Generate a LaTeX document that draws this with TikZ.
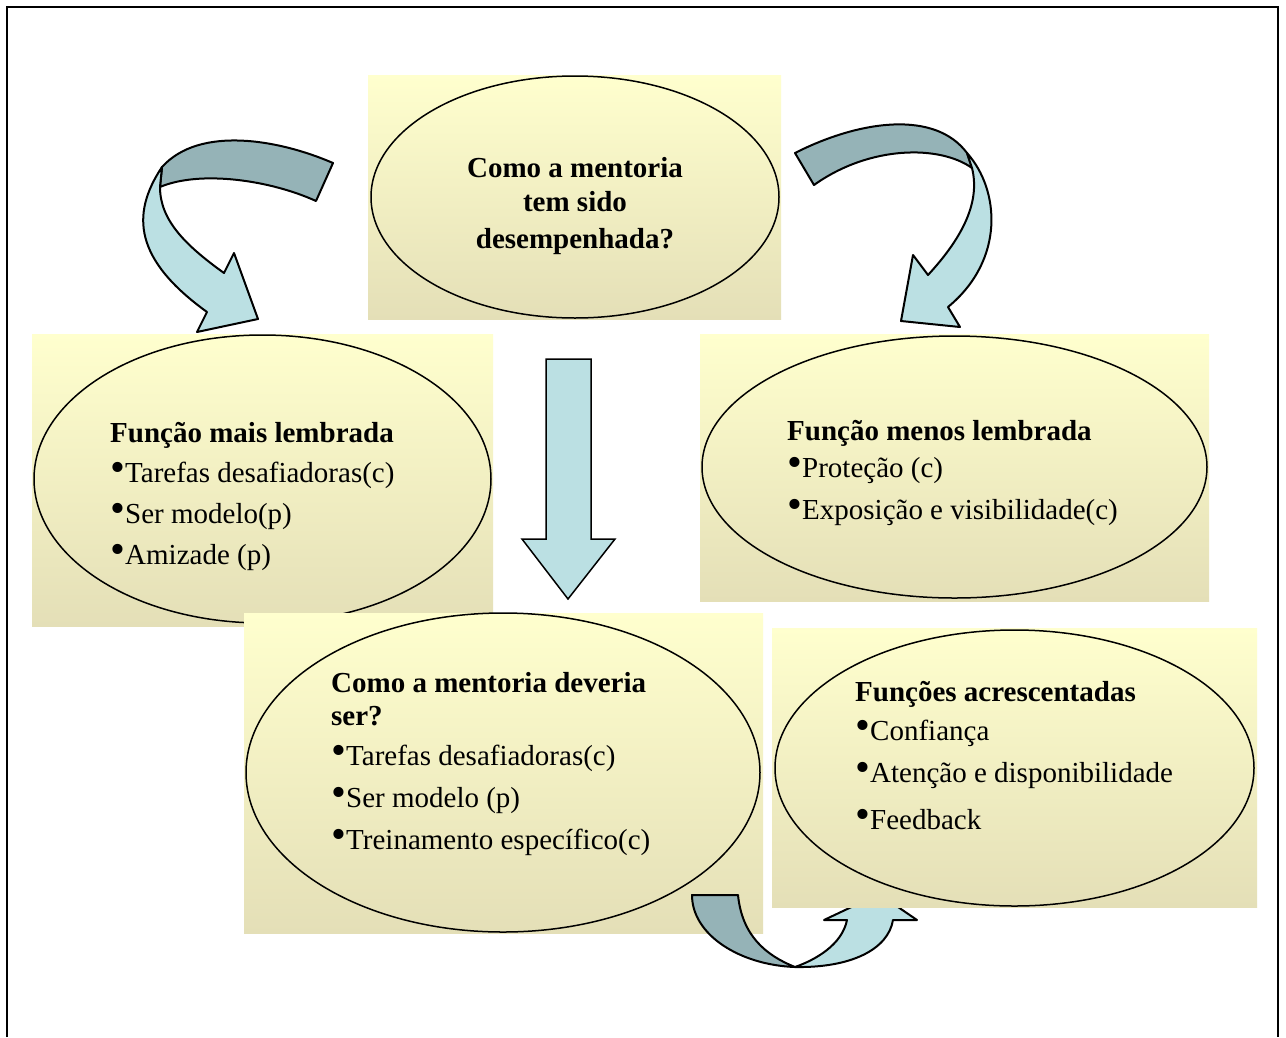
\documentclass[tikz,border=0pt]{standalone}
\usepackage{fontspec}
\usepackage{graphicx}
\setmainfont{Liberation Serif}
\usetikzlibrary{shapes.geometric}
\definecolor{ytop}{RGB}{255,255,206}
\definecolor{ybot}{RGB}{228,223,183}
\definecolor{darkband}{RGB}{149,179,183}
\definecolor{lightband}{RGB}{187,224,227}
\newcommand\fsz{\fontsize{29}{35}\selectfont}
\newcommand\bul{\makebox[15pt][l]{\raisebox{0.5pt}{\scalebox{1.7}{\fontsize{25}{30}\selectfont •}}}}
\begin{document}
\begin{tikzpicture}[x=1pt,y=-1pt,
  panel/.style={rectangle, inner sep=0, outer sep=0, top color=ytop, bottom color=ybot, draw=none},
  oval/.style={ellipse, draw=black, line width=1.5pt, inner sep=0, outer sep=0},
  hd/.style={anchor=base west, inner sep=0, font=\bfseries\fsz},
  hc/.style={anchor=base, inner sep=0, font=\bfseries\fsz},
  itm/.style={anchor=base west, inner sep=0, font=\fsz},
  dk/.style={fill=darkband, draw=black, line width=2pt, line join=round},
  lt/.style={fill=lightband, draw=black, line width=2pt, line join=round}]
\useasboundingbox (0,0) rectangle (1286,1037);
\fill[white] (0,0) rectangle (1286,1037);
\draw[line width=2pt] (7,1037) -- (7,7) -- (1278,7) -- (1278,1037);

% top panel
\node[panel, minimum width=413pt, minimum height=244pt] (ptop) at (574.5,197) {};
\node[oval, minimum width=408pt, minimum height=242pt] (etop) at (575,197) {};
\node[hc] (t1) at (575,177) {Como a mentoria};
\node[hc] (t2) at (575,211) {tem sido};
\node[hc] (t3) at (575,248) {desempenhada?};

% left panel
\node[panel, minimum width=461pt, minimum height=292pt] (pleft) at (262.5,480) {};
\node[oval, minimum width=457pt, minimum height=288pt] (eleft) at (262.5,479) {};
\node[hd] (l0) at (110,442) {Função mais lembrada};
\node[itm] (l1) at (110,482) {\bul Tarefas desafiadoras(c)};
\node[itm] (l2) at (110,523) {\bul Ser modelo(p)};
\node[itm] (l3) at (110,564) {\bul Amizade (p)};

% right panel
\node[panel, minimum width=509pt, minimum height=267pt] (pright) at (954.5,467.5) {};
\node[oval, minimum width=505pt, minimum height=262pt] (eright) at (954.5,467) {};
\node[hd] (r0) at (787,440) {Função menos lembrada};
\node[itm] (r1) at (787,477) {\bul Proteção (c)};
\node[itm] (r2) at (787,519) {\bul Exposição e visibilidade(c)};

% bottom middle panel
\node[panel, minimum width=519pt, minimum height=320pt] (pmid) at (503.5,773) {};
\node[oval, minimum width=514pt, minimum height=319pt] (emid) at (503,772.5) {};
\node[hd] (m0) at (331,692) {Como a mentoria deveria};
\node[hd] (m1) at (331,725) {ser?};
\node[itm] (m2) at (331,765) {\bul Tarefas desafiadoras(c)};
\node[itm] (m3) at (331,807) {\bul Ser modelo (p)};
\node[itm] (m4) at (331,849) {\bul Treinamento específico(c)};

% U arrow (under bottom-right panel)
\draw[dk] (692,895) -- (738,895) .. controls (742,935) and (765,955) .. (795,967)
  .. controls (740,965) and (692,935) .. (692,895) -- cycle;
\draw[lt] (795,967) .. controls (850,968) and (888,950) .. (893,920) -- (917,920) -- (879,894)
  -- (824,920) -- (847,920) .. controls (842,945) and (815,960) .. (795,967) -- cycle;

% bottom right panel
\node[panel, minimum width=485pt, minimum height=279pt] (pbr) at (1014.5,767.5) {};
\node[oval, minimum width=479pt, minimum height=276pt] (ebr) at (1014.5,768) {};
\node[hd] (b0) at (855,701) {Funções acrescentadas};
\node[itm] (b1) at (855,740) {\bul Confiança};
\node[itm] (b2) at (855,782) {\bul Atenção e disponibilidade};
\node[itm] (b3) at (855,829) {\bul Feedback};

% straight down arrow
\draw[lt, line width=1.5pt, line join=miter] (546,359) -- (591,359) -- (591,539) -- (615,539) -- (568,599)
  -- (522,539) -- (546,539) -- cycle;

% left curved arrow
\draw[dk] (333,163) .. controls (280,140) and (200,125) .. (162,167) -- (160,187)
  .. controls (200,170) and (270,180) .. (316,201) -- cycle;
\draw[lt] (162,167) .. controls (130,215) and (135,260) .. (207,312) -- (197,332) -- (258,319)
  -- (234,253) -- (224,273) .. controls (185,245) and (160,220) .. (160,187) -- cycle;

% right curved arrow
\draw[dk] (795,153) .. controls (860,120) and (935,110) .. (967,153) -- (972,168)
  .. controls (940,145) and (870,145) .. (814,185) -- cycle;
\draw[lt] (967,153) .. controls (1000,190) and (1005,260) .. (948,307) -- (960,327) -- (901,321)
  -- (913,255) -- (928,275) .. controls (965,235) and (980,200) .. (972,168) -- cycle;
\end{tikzpicture}
\end{document}
